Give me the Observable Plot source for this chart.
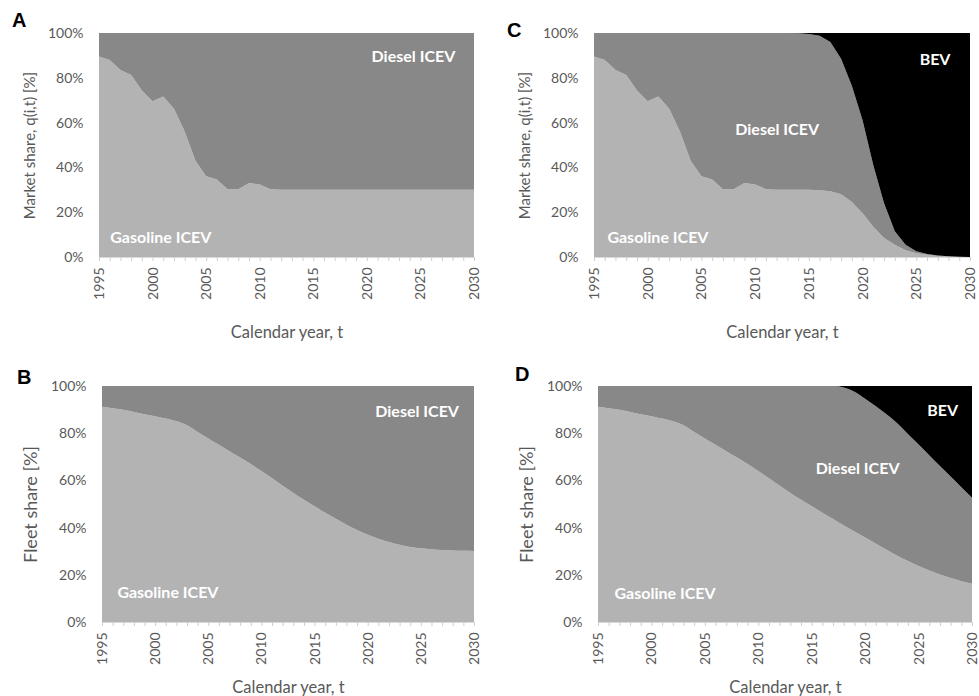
<!DOCTYPE html>
<html>
<head>
<meta charset="utf-8">
<script src="https://cdn.jsdelivr.net/npm/d3@7"></script>
<script src="https://cdn.jsdelivr.net/npm/@observablehq/plot@0.6"></script>
<style>
  body { margin: 0; background: #ffffff; }
  #wrap { position: relative; width: 979px; height: 696px; font-family: Lato, sans-serif; overflow: hidden; }
  .panel { position: absolute; }
  .letter { position: absolute; font-family: Arial, "Liberation Sans", sans-serif; font-weight: bold; font-size: 20px; line-height: 1; color: #000; }
</style>
</head>
<body>
<div id="wrap"></div>
<script>
// ---- categories ----
const years = [1995,1996,1997,1998,1999,2000,2001,2002,2003,2004,2005,2006,2007,2008,2009,2010,2011,2012,
               2013,2014,2015,2016,2017,2018,2019,2020,2021,2022,2023,2024,2025,2026,2027,2028,2029,2030];
const majorYears = [1995,2000,2005,2010,2015,2020,2025,2030];
const yTicks = [0,20,40,60,80,100];
const types = ["Gasoline ICEV","Diesel ICEV","BEV"];
const typeColors = ["#b3b3b3","#888888","#000000"];

// ---- Panel A: market share, no BEV ----
const aGasoline = [89.5,88.0,83.5,81.3,74.3,69.5,71.7,66.2,56.0,43.0,36.0,34.6,30.3,30.3,33.0,32.4,30.3,30.0,
                   30.0,30.0,30.0,30.0,30.0,30.0,30.0,30.0,30.0,30.0,30.0,30.0,30.0,30.0,30.0,30.0,30.0,30.0];
const aDiesel   = [10.5,12.0,16.5,18.7,25.7,30.5,28.3,33.8,44.0,57.0,64.0,65.4,69.7,69.7,67.0,67.6,69.7,70.0,
                   70.0,70.0,70.0,70.0,70.0,70.0,70.0,70.0,70.0,70.0,70.0,70.0,70.0,70.0,70.0,70.0,70.0,70.0];

// ---- Panel C: market share with BEV ----
const cGasoline = [89.5,88.0,83.5,81.3,74.3,69.5,71.7,66.2,56.0,43.0,36.0,34.6,30.3,30.3,33.0,32.4,30.3,30.0,
                   30.0,30.0,30.0,29.8,29.3,28.0,24.5,19.5,13.5,8.5,5.5,3.0,1.7,1.0,0.5,0.2,0.1,0.0];
const cDiesel   = [10.5,12.0,16.5,18.7,25.7,30.5,28.3,33.8,44.0,57.0,64.0,65.4,69.7,69.7,67.0,67.6,69.7,70.0,
                   70.0,69.9,69.6,69.0,66.7,60.5,52.0,41.5,27.5,15.5,6.0,2.5,0.9,0.3,0.2,0.1,0.0,0.0];
const cBEV      = [0,0,0,0,0,0,0,0,0,0,0,0,0,0,0,0,0,0,
                   0,0.1,0.4,1.2,4.0,11.5,23.5,39.0,59.0,76.0,88.5,94.5,97.4,98.7,99.3,99.7,99.9,100];

// ---- Panel B: fleet share, no BEV ----
const bGasoline = [91.2,90.6,89.9,89.0,88.0,87.2,86.2,85.1,83.4,80.5,77.8,75.1,72.4,69.7,66.9,64.0,60.9,57.7,
                   54.7,51.8,49.0,46.3,43.7,41.2,39.0,37.0,35.3,33.9,32.7,31.8,31.2,30.8,30.5,30.3,30.2,30.1];
const bDiesel   = [8.8,9.4,10.1,11.0,12.0,12.8,13.8,14.9,16.6,19.5,22.2,24.9,27.6,30.3,33.1,36.0,39.1,42.3,
                   45.3,48.2,51.0,53.7,56.3,58.8,61.0,63.0,64.7,66.1,67.3,68.2,68.8,69.2,69.5,69.7,69.8,69.9];

// ---- Panel D: fleet share with BEV ----
const dGasoline = [91.2,90.6,89.9,89.0,88.0,87.2,86.2,85.1,83.4,80.5,77.8,75.1,72.4,69.7,66.9,64.0,60.9,57.7,
                   54.7,51.8,49.0,46.3,43.6,40.9,38.3,35.8,33.2,30.6,28.1,25.8,23.7,21.8,20.1,18.6,17.3,16.2];
const dDiesel   = [8.8,9.4,10.1,11.0,12.0,12.8,13.8,14.9,16.6,19.5,22.2,24.9,27.6,30.3,33.1,36.0,39.1,42.3,
                   45.3,48.2,51.0,53.7,56.4,58.5,59.3,58.8,58.2,57.4,56.1,53.9,51.5,48.9,46.0,43.0,39.8,36.4];
const dBEV      = [0,0,0,0,0,0,0,0,0,0,0,0,0,0,0,0,0,0,
                   0,0,0,0,0,0.6,2.4,5.4,8.6,12.0,15.8,20.3,24.8,29.3,33.9,38.4,42.9,47.4];

// ---- in-chart labels (data coordinates) ----
const aLabels = [
  {text: "Diesel ICEV", x: 2024.3, y: 89.5, anchor: "middle"},
  {text: "Gasoline ICEV", x: 1996.0, y: 8.7, anchor: "start"}
];
const cLabels = [
  {text: "BEV", x: 2026.7, y: 88.3, anchor: "middle"},
  {text: "Diesel ICEV", x: 2012.0, y: 56.9, anchor: "middle"},
  {text: "Gasoline ICEV", x: 1996.2, y: 8.7, anchor: "start"}
];
const bLabels = [
  {text: "Diesel ICEV", x: 2024.6, y: 89.3, anchor: "middle"},
  {text: "Gasoline ICEV", x: 1996.4, y: 12.5, anchor: "start"}
];
const dLabels = [
  {text: "BEV", x: 2027.2, y: 89.6, anchor: "middle"},
  {text: "Diesel ICEV", x: 2019.25, y: 65.2, anchor: "middle"},
  {text: "Gasoline ICEV", x: 1996.5, y: 12.1, anchor: "start"}
];

const axisGray = "#595959";

function buildRows(series) {
  const rows = [];
  years.forEach((yr, i) => {
    series.forEach(([type, vals]) => rows.push({year: yr, type, share: vals[i]}));
  });
  return rows;
}

function panel(cfg) {
  const rows = buildRows(cfg.series);
  return Plot.plot({
    width: cfg.width,
    height: cfg.height,
    marginLeft: cfg.ml, marginRight: cfg.mr, marginTop: cfg.mt, marginBottom: cfg.mb,
    style: {fontFamily: "Lato, sans-serif", background: "transparent", overflow: "visible"},
    x: {domain: [1995, 2030]},
    y: {domain: [0, 100]},
    color: {domain: types, range: typeColors},
    marks: [
      Plot.areaY(rows, {x: "year", y: "share", z: "type", fill: "type", order: types, curve: cfg.curve}),
      Plot.ruleY([0], {stroke: "#d9d9d9", strokeWidth: 1}),
      Plot.axisX({ticks: years, tickSize: 4, tickFormat: () => "", stroke: "#cfcfcf", label: null}),
      Plot.axisX({ticks: majorYears, tickSize: 0, tickPadding: 10, tickRotate: -90, tickFormat: d => String(d),
                  fontSize: 14, fill: axisGray, label: null}),
      Plot.axisX({ticks: [], tickSize: 0, label: "Calendar year, t", labelAnchor: "center", labelArrow: "none",
                  labelOffset: cfg.xLabelOffset, fontSize: 16.5, fill: axisGray}),
      Plot.axisY({ticks: yTicks, tickSize: 0, tickPadding: 16, tickFormat: d => d + "%",
                  fontSize: 14, fill: axisGray, label: null}),
      Plot.axisY({ticks: [], tickSize: 0, label: cfg.yLabel, labelAnchor: "center", labelArrow: "none",
                  labelOffset: cfg.yLabelOffset, fontSize: cfg.yLabelSize, fill: axisGray}),
      Plot.text(cfg.labels.filter(d => d.anchor === "middle"),
                {x: "x", y: "y", text: "text", fill: "white", fontWeight: "bold", fontSize: 16, textAnchor: "middle"}),
      Plot.text(cfg.labels.filter(d => d.anchor === "start"),
                {x: "x", y: "y", text: "text", fill: "white", fontWeight: "bold", fontSize: 16, textAnchor: "start"})
    ]
  });
}

const wrap = document.getElementById("wrap");
function place(node, left, top) {
  const div = document.createElement("div");
  div.className = "panel";
  div.style.left = left + "px";
  div.style.top = top + "px";
  div.appendChild(node);
  wrap.appendChild(div);
}
function letter(txt, left, top) {
  const d = document.createElement("div");
  d.className = "letter";
  d.textContent = txt;
  d.style.left = left + "px";
  d.style.top = top + "px";
  wrap.appendChild(d);
}

place(panel({
  width: 490, height: 346, ml: 99, mr: 16, mt: 33, mb: 89, curve: "linear",
  series: [["Gasoline ICEV", aGasoline], ["Diesel ICEV", aDiesel]],
  labels: aLabels, yLabel: "Market share, q(i,t) [%]", xLabelOffset: 80, yLabelOffset: 75, yLabelSize: 15
}), 0, 0);

place(panel({
  width: 489, height: 346, ml: 104, mr: 9, mt: 33, mb: 89, curve: "linear",
  series: [["Gasoline ICEV", cGasoline], ["Diesel ICEV", cDiesel], ["BEV", cBEV]],
  labels: cLabels, yLabel: "Market share, q(i,t) [%]", xLabelOffset: 80, yLabelOffset: 75, yLabelSize: 15
}), 490, 0);

place(panel({
  width: 490, height: 366, ml: 102, mr: 16, mt: 56, mb: 74, curve: "monotone-x",
  series: [["Gasoline ICEV", bGasoline], ["Diesel ICEV", bDiesel]],
  labels: bLabels, yLabel: "Fleet share [%]", xLabelOffset: 70, yLabelOffset: 78, yLabelSize: 18
}), 0, 330);

place(panel({
  width: 489, height: 366, ml: 108, mr: 7, mt: 56, mb: 74, curve: "monotone-x",
  series: [["Gasoline ICEV", dGasoline], ["Diesel ICEV", dDiesel], ["BEV", dBEV]],
  labels: dLabels, yLabel: "Fleet share [%]", xLabelOffset: 70, yLabelOffset: 78, yLabelSize: 18
}), 490, 330);

letter("A", 12, 10);
letter("C", 507, 20);
letter("B", 17, 367);
letter("D", 515, 364);
</script>
</body>
</html>
